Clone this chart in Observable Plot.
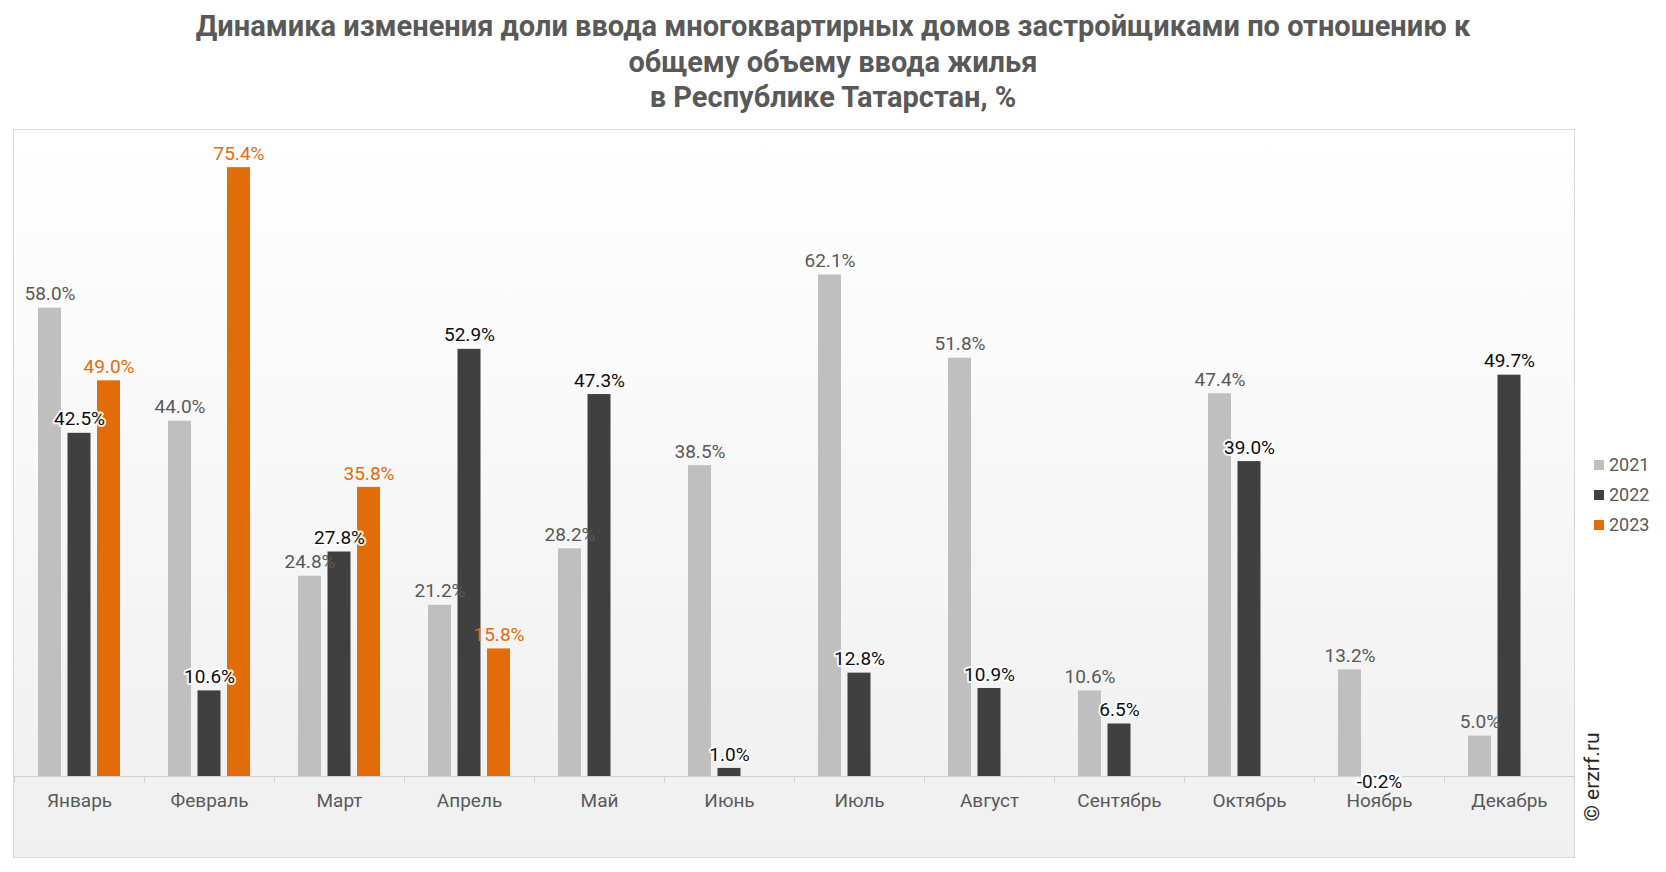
<!DOCTYPE html>
<html>
<head>
<meta charset="utf-8">
<script src="https://cdn.jsdelivr.net/npm/d3@7"></script>
<script src="https://cdn.jsdelivr.net/npm/@observablehq/plot@0.6"></script>
<style>
  html, body { margin: 0; padding: 0; background: #fff; }
  body { width: 1666px; height: 872px; position: relative; overflow: hidden; font-family: Roboto, "Noto Sans", sans-serif; }
  #title { height: 130px; box-sizing: border-box; padding-top: 9px; text-align: center; font-weight: bold; font-size: 29px; line-height: 35.5px; color: #595959; }
  #bg { position: absolute; left: 13px; top: 129px; width: 1560px; height: 727px; border: 1px solid #d9d9d9; background: linear-gradient(to bottom, #ffffff 0%, #f7f7f7 50%, #f1f1f1 88%, #f0f0f0 100%); }
  #chart { position: absolute; left: 0; top: 130px; }
  #legend { position: absolute; left: 1594px; top: 450px; font-size: 18px; color: #595959; }
  #legend div { height: 30px; line-height: 26px; display: flex; align-items: center; }
  #legend span.sw { display: inline-block; width: 10px; height: 10px; margin-right: 5px; }
  #wm { position: absolute; left: 1592px; top: 777px; transform: translate(-50%, -50%) rotate(-90deg); font-size: 21px; color: #262626; white-space: nowrap; }
</style>
</head>
<body>
<div id="title">Динамика изменения доли ввода многоквартирных домов застройщиками по отношению к<br>общему объему ввода жилья<br>в Республике Татарстан, %</div>
<div id="bg"></div>
<div id="chart"></div>
<div id="legend"></div>
<div id="wm">© erzrf.ru</div>
<script>
const months = ["Январь", "Февраль", "Март", "Апрель", "Май", "Июнь", "Июль", "Август", "Сентябрь", "Октябрь", "Ноябрь", "Декабрь"];
const years = ["2021", "2022", "2023"];
const v2021 = [58.0, 44.0, 24.8, 21.2, 28.2, 38.5, 62.1, 51.8, 10.6, 47.4, 13.2, 5.0];
const v2022 = [42.5, 10.6, 27.8, 52.9, 47.3, 1.0, 12.8, 10.9, 6.5, 39.0, -0.2, 49.7];
const v2023 = [49.0, 75.4, 35.8, 15.8, null, null, null, null, null, null, null, null];
const colors = ["#bfbfbf", "#404040", "#e36c0a"];
const labelColors = ["#595959", "#0d0d0d", "#e36c0a"];

const series = [v2021, v2022, v2023];
const data = [];
series.forEach((vals, k) => vals.forEach((v, i) => {
  if (v != null) {
    const others = series.filter((s, j) => j !== k).map(s => s[i]).filter(x => x != null);
    data.push({month: months[i], year: years[k], value: v, covered: others.some(o => o > v)});
  }
}));

const W = 1666, H = 742, ML = 14, MR = 92, MT = 0, MB = 96;
const bw = (W - ML - MR) / months.length;
const barW = 23, step = 29.5;
const inset = (bw - barW) / 2;
const fmt = v => v.toFixed(1) + "%";
const FS = 19;

const marks = [
  Plot.ruleY([0], {stroke: "#d0d0d0", strokeWidth: 1}),
  Plot.ruleX(months, {x: d => d, dx: -bw / 2, y1: 0, y2: -0.8, stroke: "#d0d0d0"}),
  Plot.ruleX([months[months.length - 1]], {x: d => d, dx: bw / 2, y1: 0, y2: -0.8, stroke: "#d0d0d0"})
];
years.forEach((yr, k) => {
  const rows = data.filter(d => d.year === yr);
  const dx = (k - 1) * step;
  marks.push(Plot.barY(rows, {x: "month", y: "value", fill: colors[k], insetLeft: inset + dx, insetRight: inset - dx}));
});
years.forEach((yr, k) => {
  const rows = data.filter(d => d.year === yr);
  const dx = (k - 1) * step;
  const pos = rows.filter(d => d.value >= 0);
  if (k === 1) {
    marks.push(Plot.text(pos.filter(d => d.covered), {x: "month", y: "value", text: d => fmt(d.value), dx, dy: -14, fill: labelColors[k], fontSize: FS, stroke: "white", strokeWidth: 4, strokeOpacity: 0.85}));
    marks.push(Plot.text(pos.filter(d => !d.covered), {x: "month", y: "value", text: d => fmt(d.value), dx, dy: -14, fill: labelColors[k], fontSize: FS}));
  } else {
    marks.push(Plot.text(pos, {x: "month", y: "value", text: d => fmt(d.value), dx, dy: -14, fill: labelColors[k], fontSize: FS}));
  }
  marks.push(Plot.text(rows.filter(d => d.value < 0), {x: "month", y: "value", text: d => fmt(d.value), dx, dy: 4, fill: labelColors[k], fontSize: FS, stroke: "white", strokeWidth: 5}));
});
marks.push(Plot.axisX({tickSize: 0, tickPadding: 17, fontSize: FS, fill: "#595959", label: null}));

const chart = Plot.plot({
  width: W, height: H,
  marginLeft: ML, marginRight: MR, marginTop: MT, marginBottom: MB,
  style: {background: "transparent", fontFamily: "Roboto, sans-serif", fontSize: FS + "px", color: "#595959", overflow: "visible"},
  x: {type: "band", domain: months, padding: 0, label: null},
  y: {domain: [0, 80], axis: null},
  marks
});
document.getElementById("chart").appendChild(chart);

const legend = document.getElementById("legend");
years.forEach((yr, k) => {
  const row = document.createElement("div");
  row.innerHTML = `<span class="sw" style="background:${colors[k]}"></span>${yr}`;
  legend.appendChild(row);
});
</script>
</body>
</html>
